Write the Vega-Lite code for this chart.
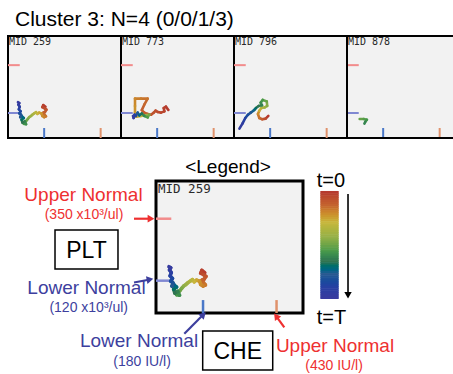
{
"$schema": "https://vega.github.io/schema/vega-lite/v6.json",
"background": "white",
"padding": {"left": 6, "top": 9, "right": 0, "bottom": 0},
"title": {"text": "Cluster 3: N=4 (0/0/1/3)", "anchor": "start", "font": "Liberation Sans", "fontSize": 21, "fontWeight": "normal", "color": "black", "offset": 5, "dx": 9},
"config": {"view": {"stroke": "black", "strokeWidth": 2, "fill": "#f2f2f2"}, "font": "Liberation Sans"},
"datasets": {
"traj": [
{"mid":"259","t":0,"che":186,"plt":150},{"mid":"259","t":0.02,"che":176,"plt":158},{"mid":"259","t":0.04,"che":172,"plt":148},{"mid":"259","t":0.06,"che":182,"plt":142},{"mid":"259","t":0.08,"che":190,"plt":136},{"mid":"259","t":0.10,"che":184,"plt":126},{"mid":"259","t":0.12,"che":176,"plt":122},{"mid":"259","t":0.14,"che":182,"plt":112},{"mid":"259","t":0.16,"che":188,"plt":104},{"mid":"259","t":0.18,"che":180,"plt":100},{"mid":"259","t":0.20,"che":172,"plt":106},{"mid":"259","t":0.22,"che":168,"plt":118},{"mid":"259","t":0.25,"che":158,"plt":122},{"mid":"259","t":0.28,"che":150,"plt":116},{"mid":"259","t":0.31,"che":144,"plt":124},{"mid":"259","t":0.34,"che":136,"plt":118},{"mid":"259","t":0.37,"che":128,"plt":112},{"mid":"259","t":0.40,"che":122,"plt":106},{"mid":"259","t":0.43,"che":114,"plt":100},{"mid":"259","t":0.46,"che":108,"plt":92},{"mid":"259","t":0.49,"che":102,"plt":84},{"mid":"259","t":0.52,"che":96,"plt":76},{"mid":"259","t":0.55,"che":90,"plt":68},{"mid":"259","t":0.58,"che":100,"plt":66},{"mid":"259","t":0.61,"che":94,"plt":80},{"mid":"259","t":0.64,"che":84,"plt":74},{"mid":"259","t":0.67,"che":80,"plt":88},{"mid":"259","t":0.70,"che":90,"plt":96},{"mid":"259","t":0.73,"che":82,"plt":104},{"mid":"259","t":0.76,"che":74,"plt":100},{"mid":"259","t":0.79,"che":78,"plt":112},{"mid":"259","t":0.82,"che":70,"plt":118},{"mid":"259","t":0.85,"che":76,"plt":128},{"mid":"259","t":0.88,"che":68,"plt":138},{"mid":"259","t":0.91,"che":72,"plt":150},{"mid":"259","t":0.94,"che":66,"plt":160},{"mid":"259","t":0.97,"che":70,"plt":168},{"mid":"259","t":1.00,"che":64,"plt":172},
{"mid":"773","t":0,"che":229.5,"plt":134.5},{"mid":"773","t":0.01,"che":219,"plt":150.5},{"mid":"773","t":0.02,"che":209,"plt":144},{"mid":"773","t":0.03,"che":212,"plt":128},{"mid":"773","t":0.04,"che":197,"plt":122},{"mid":"773","t":0.05,"che":182,"plt":125},{"mid":"773","t":0.06,"che":173,"plt":131},{"mid":"773","t":0.07,"che":165,"plt":122},{"mid":"773","t":0.08,"che":153,"plt":112},{"mid":"773","t":0.09,"che":138,"plt":115},{"mid":"773","t":0.10,"che":123,"plt":122},{"mid":"773","t":0.11,"che":112,"plt":134},{"mid":"773","t":0.13,"che":123,"plt":160},{"mid":"773","t":0.15,"che":138,"plt":189},{"mid":"773","t":0.17,"che":108,"plt":189},{"mid":"773","t":0.19,"che":82,"plt":189},{"mid":"773","t":0.21,"che":82,"plt":154},{"mid":"773","t":0.23,"che":82,"plt":122},{"mid":"773","t":0.26,"che":88,"plt":102},{"mid":"773","t":0.32,"che":108,"plt":106},{"mid":"773","t":0.40,"che":126,"plt":109},{"mid":"773","t":0.48,"che":145,"plt":112},{"mid":"773","t":0.54,"che":138,"plt":99},{"mid":"773","t":0.60,"che":123,"plt":106},{"mid":"773","t":0.66,"che":112,"plt":118},{"mid":"773","t":0.72,"che":101,"plt":109},{"mid":"773","t":0.78,"che":94,"plt":122},{"mid":"773","t":0.84,"che":86,"plt":106},{"mid":"773","t":0.90,"che":80,"plt":112},{"mid":"773","t":0.95,"che":76,"plt":96},{"mid":"773","t":1.00,"che":73,"plt":106},
{"mid":"796","t":0,"che":172,"plt":106},{"mid":"796","t":0.05,"che":160,"plt":93},{"mid":"796","t":0.10,"che":145,"plt":90},{"mid":"796","t":0.15,"che":132,"plt":96},{"mid":"796","t":0.20,"che":126,"plt":115},{"mid":"796","t":0.27,"che":132,"plt":131},{"mid":"796","t":0.34,"che":141,"plt":144},{"mid":"796","t":0.40,"che":156,"plt":147},{"mid":"796","t":0.45,"che":167,"plt":154},{"mid":"796","t":0.50,"che":165,"plt":176},{"mid":"796","t":0.55,"che":147,"plt":183},{"mid":"796","t":0.58,"che":138,"plt":170},{"mid":"796","t":0.61,"che":144,"plt":157},{"mid":"796","t":0.64,"che":129,"plt":154},{"mid":"796","t":0.67,"che":117,"plt":144},{"mid":"796","t":0.70,"che":112,"plt":138},{"mid":"796","t":0.74,"che":106,"plt":131},{"mid":"796","t":0.78,"che":94,"plt":122},{"mid":"796","t":0.83,"che":82,"plt":112},{"mid":"796","t":0.88,"che":70,"plt":96},{"mid":"796","t":0.94,"che":58,"plt":70},{"mid":"796","t":1.00,"che":44,"plt":45},
{"mid":"878","t":0.50,"che":76,"plt":91},{"mid":"878","t":0.53,"che":94,"plt":91},{"mid":"878","t":0.56,"che":108,"plt":88},{"mid":"878","t":0.60,"che":101,"plt":78},{"mid":"878","t":0.64,"che":97,"plt":69}
],
"ticks": [
{"axis":"PLT","which":"PLT upper","value":350},{"axis":"PLT","which":"PLT lower","value":120},{"axis":"CHE","which":"CHE lower","value":180},{"axis":"CHE","which":"CHE upper","value":430}
],
"mids": [
{"mid":"259","label":"MID 259"},{"mid":"773","label":"MID 773"},{"mid":"796","label":"MID 796"},{"mid":"878","label":"MID 878"}
],
"notes": [
{"text":"<Legend>","che":264.9,"plt":546,"tone":"black","level":"legend"},
{"text":"Upper Normal","che":-226.6,"plt":442.9,"tone":"red","level":"head"},
{"text":"(350 x10³/ul)","che":-224.9,"plt":367.5,"tone":"red","level":"sub"},
{"text":"PLT","che":-216.4,"plt":235.7,"tone":"black","level":"box"},
{"text":"Lower Normal","che":-216.4,"plt":96.5,"tone":"blue","level":"head"},
{"text":"(120 x10³/ul)","che":-208.9,"plt":22.3,"tone":"blue","level":"sub"},
{"text":"Lower Normal","che":-37.8,"plt":-100.2,"tone":"blue","level":"head"},
{"text":"(180 IU/l)","che":-27.6,"plt":-178.2,"tone":"blue","level":"sub"},
{"text":"CHE","che":297.9,"plt":-139.2,"tone":"black","level":"box"},
{"text":"Upper Normal","che":628.9,"plt":-117.7,"tone":"red","level":"head"},
{"text":"(430 IU/l)","che":625.5,"plt":-191.9,"tone":"red","level":"sub"},
{"text":"t=0","che":615.2,"plt":493,"tone":"black","level":"t"},
{"text":"t=T","che":617,"plt":-16,"tone":"black","level":"t"}
],
"boxes": [
{"label":"PLT","che":-323.5,"che2":-109.3,"plt":308.1,"plt2":163.3},
{"label":"CHE","che":178.8,"che2":417,"plt":-66.8,"plt2":-211.6}
],
"arrows": [
{"id":"pu","tone":"red","che":-54.8,"plt":350,"che2":3,"plt2":350},
{"id":"pl","tone":"blue","che":-54.8,"plt":113.2,"che2":-0.4,"plt2":124.4},
{"id":"cl","tone":"blue","che":116.3,"plt":-76.8,"che2":181.2,"plt2":-5.9},
{"id":"cu","tone":"red","che":456.4,"plt":-53.1,"che2":428.5,"plt2":-11.5},
{"id":"time","tone":"black","che":673.1,"plt":441.7,"che2":673.1,"plt2":66}
],
"colorbar": [
{"t":0,"t2":0.025},{"t":0.02,"t2":0.045},{"t":0.04,"t2":0.065},{"t":0.06,"t2":0.085},{"t":0.08,"t2":0.105},{"t":0.1,"t2":0.125},{"t":0.12,"t2":0.145},{"t":0.14,"t2":0.165},{"t":0.16,"t2":0.185},{"t":0.18,"t2":0.205},{"t":0.2,"t2":0.225},{"t":0.22,"t2":0.245},{"t":0.24,"t2":0.265},{"t":0.26,"t2":0.285},{"t":0.28,"t2":0.305},{"t":0.3,"t2":0.325},{"t":0.32,"t2":0.345},{"t":0.34,"t2":0.365},{"t":0.36,"t2":0.385},{"t":0.38,"t2":0.405},{"t":0.4,"t2":0.425},{"t":0.42,"t2":0.445},{"t":0.44,"t2":0.465},{"t":0.46,"t2":0.485},{"t":0.48,"t2":0.505},{"t":0.5,"t2":0.525},{"t":0.52,"t2":0.545},{"t":0.54,"t2":0.565},{"t":0.56,"t2":0.585},{"t":0.58,"t2":0.605},{"t":0.6,"t2":0.625},{"t":0.62,"t2":0.645},{"t":0.64,"t2":0.665},{"t":0.66,"t2":0.685},{"t":0.68,"t2":0.705},{"t":0.7,"t2":0.725},{"t":0.72,"t2":0.745},{"t":0.74,"t2":0.765},{"t":0.76,"t2":0.785},{"t":0.78,"t2":0.805},{"t":0.8,"t2":0.825},{"t":0.82,"t2":0.845},{"t":0.84,"t2":0.865},{"t":0.86,"t2":0.885},{"t":0.88,"t2":0.905},{"t":0.9,"t2":0.925},{"t":0.92,"t2":0.945},{"t":0.94,"t2":0.965},{"t":0.96,"t2":0.985},{"t":0.98,"t2":1.0}
]
},
"spacing": 7,
"resolve": {"scale": {"x": "independent", "y": "independent"}},
"vconcat": [
{
"hconcat": [
{
"width": 113, "height": 102,
"layer": [
{"data":{"name":"ticks"},"transform":[{"filter":"datum.axis == 'PLT'"}],"mark":{"type":"rule","strokeWidth":2},
"encoding":{"y":{"field":"value","type":"quantitative","scale":{"domain":[0,490],"nice":false,"zero":false},"axis":null},"x":{"datum":20,"type":"quantitative","scale":{"domain":[20,520],"nice":false,"zero":false},"axis":null},"x2":{"datum":72},"stroke":{"field":"which","type":"nominal","scale":{"domain":["PLT upper","PLT lower","CHE lower","CHE upper","red","blue","black"],"range":["#f28c8c","#8088d2","#4a78c8","#e0926c","#ee3030","#3d3f9e","#000000"]},"legend":null}}},
{"data":{"name":"ticks"},"transform":[{"filter":"datum.axis == 'CHE'"}],"mark":{"type":"rule","strokeWidth":2},
"encoding":{"x":{"field":"value","type":"quantitative","scale":{"domain":[20,520],"nice":false,"zero":false},"axis":null},"y":{"datum":0,"type":"quantitative","scale":{"domain":[0,490],"nice":false,"zero":false},"axis":null},"y2":{"datum":48},"stroke":{"field":"which","type":"nominal","scale":{"domain":["PLT upper","PLT lower","CHE lower","CHE upper","red","blue","black"],"range":["#f28c8c","#8088d2","#4a78c8","#e0926c","#ee3030","#3d3f9e","#000000"]},"legend":null}}},
{"data":{"name":"traj"},"transform":[{"filter":"datum.mid == '259'"},{"window":[{"op":"lead","field":"che","as":"che2"},{"op":"lead","field":"plt","as":"plt2"}],"sort":[{"field":"t"}]},{"filter":"isValid(datum.che2)"}],
"mark":{"type":"rule","strokeWidth":2.6,"strokeCap":"round"},
"encoding":{"x":{"field":"che","type":"quantitative","scale":{"domain":[20,520],"nice":false,"zero":false},"axis":null},"y":{"field":"plt","type":"quantitative","scale":{"domain":[0,490],"nice":false,"zero":false},"axis":null},"x2":{"field":"che2"},"y2":{"field":"plt2"},"color":{"field":"t","type":"quantitative","scale":{"domain":[0,0.12,0.28,0.42,0.55,0.65,0.75,0.87,1],"range":["#b53a2e","#c4632f","#c8b63c","#94b048","#47994a","#2f7050","#2b5b8e","#2440a2","#3b3a9e"]},"legend":null}}},
{"data":{"name":"mids"},"transform":[{"filter":"datum.mid == '259'"}],"mark":{"type":"text","font":"DejaVu Sans Mono","fontSize":10,"align":"left","baseline":"top","dx":1,"dy":1,"fill":"#2a2a2a"},
"encoding":{"x":{"datum":20,"type":"quantitative","scale":{"domain":[20,520],"nice":false,"zero":false},"axis":null},"y":{"datum":490,"type":"quantitative","scale":{"domain":[0,490],"nice":false,"zero":false},"axis":null},"text":{"field":"label"}}}
]
},
{
"width": 113, "height": 102,
"layer": [
{"data":{"name":"ticks"},"transform":[{"filter":"datum.axis == 'PLT'"}],"mark":{"type":"rule","strokeWidth":2},
"encoding":{"y":{"field":"value","type":"quantitative","scale":{"domain":[0,490],"nice":false,"zero":false},"axis":null},"x":{"datum":20,"type":"quantitative","scale":{"domain":[20,520],"nice":false,"zero":false},"axis":null},"x2":{"datum":72},"stroke":{"field":"which","type":"nominal","scale":{"domain":["PLT upper","PLT lower","CHE lower","CHE upper","red","blue","black"],"range":["#f28c8c","#8088d2","#4a78c8","#e0926c","#ee3030","#3d3f9e","#000000"]},"legend":null}}},
{"data":{"name":"ticks"},"transform":[{"filter":"datum.axis == 'CHE'"}],"mark":{"type":"rule","strokeWidth":2},
"encoding":{"x":{"field":"value","type":"quantitative","scale":{"domain":[20,520],"nice":false,"zero":false},"axis":null},"y":{"datum":0,"type":"quantitative","scale":{"domain":[0,490],"nice":false,"zero":false},"axis":null},"y2":{"datum":48},"stroke":{"field":"which","type":"nominal","scale":{"domain":["PLT upper","PLT lower","CHE lower","CHE upper","red","blue","black"],"range":["#f28c8c","#8088d2","#4a78c8","#e0926c","#ee3030","#3d3f9e","#000000"]},"legend":null}}},
{"data":{"name":"traj"},"transform":[{"filter":"datum.mid == '773'"},{"window":[{"op":"lead","field":"che","as":"che2"},{"op":"lead","field":"plt","as":"plt2"}],"sort":[{"field":"t"}]},{"filter":"isValid(datum.che2)"}],
"mark":{"type":"rule","strokeWidth":2.6,"strokeCap":"round"},
"encoding":{"x":{"field":"che","type":"quantitative","scale":{"domain":[20,520],"nice":false,"zero":false},"axis":null},"y":{"field":"plt","type":"quantitative","scale":{"domain":[0,490],"nice":false,"zero":false},"axis":null},"x2":{"field":"che2"},"y2":{"field":"plt2"},"color":{"field":"t","type":"quantitative","scale":{"domain":[0,0.12,0.28,0.42,0.55,0.65,0.75,0.87,1],"range":["#b53a2e","#c4632f","#c8b63c","#94b048","#47994a","#2f7050","#2b5b8e","#2440a2","#3b3a9e"]},"legend":null}}},
{"data":{"name":"mids"},"transform":[{"filter":"datum.mid == '773'"}],"mark":{"type":"text","font":"DejaVu Sans Mono","fontSize":10,"align":"left","baseline":"top","dx":1,"dy":1,"fill":"#2a2a2a"},
"encoding":{"x":{"datum":20,"type":"quantitative","scale":{"domain":[20,520],"nice":false,"zero":false},"axis":null},"y":{"datum":490,"type":"quantitative","scale":{"domain":[0,490],"nice":false,"zero":false},"axis":null},"text":{"field":"label"}}}
]
},
{
"width": 113, "height": 102,
"layer": [
{"data":{"name":"ticks"},"transform":[{"filter":"datum.axis == 'PLT'"}],"mark":{"type":"rule","strokeWidth":2},
"encoding":{"y":{"field":"value","type":"quantitative","scale":{"domain":[0,490],"nice":false,"zero":false},"axis":null},"x":{"datum":20,"type":"quantitative","scale":{"domain":[20,520],"nice":false,"zero":false},"axis":null},"x2":{"datum":72},"stroke":{"field":"which","type":"nominal","scale":{"domain":["PLT upper","PLT lower","CHE lower","CHE upper","red","blue","black"],"range":["#f28c8c","#8088d2","#4a78c8","#e0926c","#ee3030","#3d3f9e","#000000"]},"legend":null}}},
{"data":{"name":"ticks"},"transform":[{"filter":"datum.axis == 'CHE'"}],"mark":{"type":"rule","strokeWidth":2},
"encoding":{"x":{"field":"value","type":"quantitative","scale":{"domain":[20,520],"nice":false,"zero":false},"axis":null},"y":{"datum":0,"type":"quantitative","scale":{"domain":[0,490],"nice":false,"zero":false},"axis":null},"y2":{"datum":48},"stroke":{"field":"which","type":"nominal","scale":{"domain":["PLT upper","PLT lower","CHE lower","CHE upper","red","blue","black"],"range":["#f28c8c","#8088d2","#4a78c8","#e0926c","#ee3030","#3d3f9e","#000000"]},"legend":null}}},
{"data":{"name":"traj"},"transform":[{"filter":"datum.mid == '796'"},{"window":[{"op":"lead","field":"che","as":"che2"},{"op":"lead","field":"plt","as":"plt2"}],"sort":[{"field":"t"}]},{"filter":"isValid(datum.che2)"}],
"mark":{"type":"rule","strokeWidth":2.6,"strokeCap":"round"},
"encoding":{"x":{"field":"che","type":"quantitative","scale":{"domain":[20,520],"nice":false,"zero":false},"axis":null},"y":{"field":"plt","type":"quantitative","scale":{"domain":[0,490],"nice":false,"zero":false},"axis":null},"x2":{"field":"che2"},"y2":{"field":"plt2"},"color":{"field":"t","type":"quantitative","scale":{"domain":[0,0.12,0.28,0.42,0.55,0.65,0.75,0.87,1],"range":["#b53a2e","#c4632f","#c8b63c","#94b048","#47994a","#2f7050","#2b5b8e","#2440a2","#3b3a9e"]},"legend":null}}},
{"data":{"name":"mids"},"transform":[{"filter":"datum.mid == '796'"}],"mark":{"type":"text","font":"DejaVu Sans Mono","fontSize":10,"align":"left","baseline":"top","dx":1,"dy":1,"fill":"#2a2a2a"},
"encoding":{"x":{"datum":20,"type":"quantitative","scale":{"domain":[20,520],"nice":false,"zero":false},"axis":null},"y":{"datum":490,"type":"quantitative","scale":{"domain":[0,490],"nice":false,"zero":false},"axis":null},"text":{"field":"label"}}}
]
},
{
"width": 106, "height": 102,
"view": {"stroke": null},
"layer": [
{"data":{"name":"ticks"},"transform":[{"filter":"datum.axis == 'PLT'"}],"mark":{"type":"rule","strokeWidth":2},
"encoding":{"y":{"field":"value","type":"quantitative","scale":{"domain":[0,490],"nice":false,"zero":false},"axis":null},"x":{"datum":20,"type":"quantitative","scale":{"domain":[20,489],"nice":false,"zero":false},"axis":null},"x2":{"datum":72},"stroke":{"field":"which","type":"nominal","scale":{"domain":["PLT upper","PLT lower","CHE lower","CHE upper","red","blue","black"],"range":["#f28c8c","#8088d2","#4a78c8","#e0926c","#ee3030","#3d3f9e","#000000"]},"legend":null}}},
{"data":{"name":"ticks"},"transform":[{"filter":"datum.axis == 'CHE'"}],"mark":{"type":"rule","strokeWidth":2},
"encoding":{"x":{"field":"value","type":"quantitative","scale":{"domain":[20,489],"nice":false,"zero":false},"axis":null},"y":{"datum":0,"type":"quantitative","scale":{"domain":[0,490],"nice":false,"zero":false},"axis":null},"y2":{"datum":48},"stroke":{"field":"which","type":"nominal","scale":{"domain":["PLT upper","PLT lower","CHE lower","CHE upper","red","blue","black"],"range":["#f28c8c","#8088d2","#4a78c8","#e0926c","#ee3030","#3d3f9e","#000000"]},"legend":null}}},
{"data":{"name":"traj"},"transform":[{"filter":"datum.mid == '878'"},{"window":[{"op":"lead","field":"che","as":"che2"},{"op":"lead","field":"plt","as":"plt2"}],"sort":[{"field":"t"}]},{"filter":"isValid(datum.che2)"}],
"mark":{"type":"rule","strokeWidth":2.6,"strokeCap":"round"},
"encoding":{"x":{"field":"che","type":"quantitative","scale":{"domain":[20,489],"nice":false,"zero":false},"axis":null},"y":{"field":"plt","type":"quantitative","scale":{"domain":[0,490],"nice":false,"zero":false},"axis":null},"x2":{"field":"che2"},"y2":{"field":"plt2"},"color":{"field":"t","type":"quantitative","scale":{"domain":[0,0.12,0.28,0.42,0.55,0.65,0.75,0.87,1],"range":["#b53a2e","#c4632f","#c8b63c","#94b048","#47994a","#2f7050","#2b5b8e","#2440a2","#3b3a9e"]},"legend":null}}},
{"data":{"name":"mids"},"transform":[{"filter":"datum.mid == '878'"}],"mark":{"type":"text","font":"DejaVu Sans Mono","fontSize":10,"align":"left","baseline":"top","dx":1,"dy":1,"fill":"#2a2a2a"},
"encoding":{"x":{"datum":20,"type":"quantitative","scale":{"domain":[20,489],"nice":false,"zero":false},"axis":null},"y":{"datum":490,"type":"quantitative","scale":{"domain":[0,490],"nice":false,"zero":false},"axis":null},"text":{"field":"label"}}},
{"data":{"name":"mids"},"transform":[{"filter":"datum.mid == '878'"}],"mark":{"type":"rule","color":"black","strokeWidth":2},
"encoding":{"x":{"datum":20,"type":"quantitative","scale":{"domain":[20,489],"nice":false,"zero":false},"axis":null}}},
{"data":{"name":"mids"},"transform":[{"filter":"datum.mid == '878'"}],"mark":{"type":"rule","color":"black","strokeWidth":2},
"encoding":{"y":{"datum":490,"type":"quantitative","scale":{"domain":[0,490],"nice":false,"zero":false},"axis":null}}},
{"data":{"name":"mids"},"transform":[{"filter":"datum.mid == '878'"}],"mark":{"type":"rule","color":"black","strokeWidth":2},
"encoding":{"y":{"datum":0,"type":"quantitative","scale":{"domain":[0,490],"nice":false,"zero":false},"axis":null}}}
]
}
],
"spacing": 0,
"bounds": "flush",
"resolve": {"scale": {"x": "independent", "y": "independent"}}
},
{
"width": 445, "height": 225,
"view": {"stroke": null, "fill": null},
"resolve": {"scale": {"y": "independent"}},
"layer": [
{
"layer": [
{"data":{"name":"mids"},"transform":[{"filter":"datum.mid == '259'"}],"mark":{"type":"rect","fill":"#f2f2f2","stroke":"black","strokeWidth":3},
"encoding":{"x":{"datum":20,"type":"quantitative","scale":{"domain":[-483.4,1030.2],"nice":false,"zero":false},"axis":null},"x2":{"datum":520},"y":{"datum":0,"type":"quantitative","scale":{"domain":[-219,616.2],"nice":false,"zero":false},"axis":null},"y2":{"datum":490}}},
{"data":{"name":"ticks"},"transform":[{"filter":"datum.axis == 'PLT'"}],"mark":{"type":"rule","strokeWidth":2.5},
"encoding":{"y":{"field":"value","type":"quantitative","scale":{"domain":[-219,616.2],"nice":false,"zero":false},"axis":null},"x":{"datum":20,"type":"quantitative","scale":{"domain":[-483.4,1030.2],"nice":false,"zero":false},"axis":null},"x2":{"datum":72},"stroke":{"field":"which","type":"nominal","scale":{"domain":["PLT upper","PLT lower","CHE lower","CHE upper","red","blue","black"],"range":["#f28c8c","#8088d2","#4a78c8","#e0926c","#ee3030","#3d3f9e","#000000"]},"legend":null}}},
{"data":{"name":"ticks"},"transform":[{"filter":"datum.axis == 'CHE'"}],"mark":{"type":"rule","strokeWidth":2.5},
"encoding":{"x":{"field":"value","type":"quantitative","scale":{"domain":[-483.4,1030.2],"nice":false,"zero":false},"axis":null},"y":{"datum":0,"type":"quantitative","scale":{"domain":[-219,616.2],"nice":false,"zero":false},"axis":null},"y2":{"datum":48},"stroke":{"field":"which","type":"nominal","scale":{"domain":["PLT upper","PLT lower","CHE lower","CHE upper","red","blue","black"],"range":["#f28c8c","#8088d2","#4a78c8","#e0926c","#ee3030","#3d3f9e","#000000"]},"legend":null}}},
{"data":{"name":"traj"},"transform":[{"filter":"datum.mid == '259'"},{"window":[{"op":"lead","field":"che","as":"che2"},{"op":"lead","field":"plt","as":"plt2"}],"sort":[{"field":"t"}]},{"filter":"isValid(datum.che2)"}],
"mark":{"type":"rule","strokeWidth":3.6,"strokeCap":"round"},
"encoding":{"x":{"field":"che","type":"quantitative","scale":{"domain":[-483.4,1030.2],"nice":false,"zero":false},"axis":null},"y":{"field":"plt","type":"quantitative","scale":{"domain":[-219,616.2],"nice":false,"zero":false},"axis":null},"x2":{"field":"che2"},"y2":{"field":"plt2"},"color":{"field":"t","type":"quantitative","scale":{"domain":[0,0.12,0.28,0.42,0.55,0.65,0.75,0.87,1],"range":["#b53a2e","#c4632f","#c8b63c","#94b048","#47994a","#2f7050","#2b5b8e","#2440a2","#3b3a9e"]},"legend":null}}},
{"data":{"name":"mids"},"transform":[{"filter":"datum.mid == '259'"}],"mark":{"type":"text","font":"DejaVu Sans Mono","fontSize":12.5,"align":"left","baseline":"top","dx":2,"dy":2,"fill":"#2a2a2a"},
"encoding":{"x":{"datum":20,"type":"quantitative","scale":{"domain":[-483.4,1030.2],"nice":false,"zero":false},"axis":null},"y":{"datum":490,"type":"quantitative","scale":{"domain":[-219,616.2],"nice":false,"zero":false},"axis":null},"text":{"field":"label"}}},
{"data":{"name":"boxes"},"mark":{"type":"rect","fill":"white","stroke":"black","strokeWidth":1.5},
"encoding":{"x":{"field":"che","type":"quantitative","scale":{"domain":[-483.4,1030.2],"nice":false,"zero":false},"axis":null},"x2":{"field":"che2"},"y":{"field":"plt","type":"quantitative","scale":{"domain":[-219,616.2],"nice":false,"zero":false},"axis":null},"y2":{"field":"plt2"}}},
{"data":{"name":"arrows"},"transform":[{"filter":"datum.tone != 'black'"}],"mark":{"type":"rule","strokeWidth":2.2},
"encoding":{"x":{"field":"che","type":"quantitative","scale":{"domain":[-483.4,1030.2],"nice":false,"zero":false},"axis":null},"y":{"field":"plt","type":"quantitative","scale":{"domain":[-219,616.2],"nice":false,"zero":false},"axis":null},"x2":{"field":"che2"},"y2":{"field":"plt2"},"stroke":{"field":"tone","type":"nominal","scale":{"domain":["PLT upper","PLT lower","CHE lower","CHE upper","red","blue","black"],"range":["#f28c8c","#8088d2","#4a78c8","#e0926c","#ee3030","#3d3f9e","#000000"]},"legend":null}}},
{"data":{"name":"arrows"},"transform":[{"filter":"datum.tone == 'black'"}],"mark":{"type":"rule","strokeWidth":1.6},
"encoding":{"x":{"field":"che","type":"quantitative","scale":{"domain":[-483.4,1030.2],"nice":false,"zero":false},"axis":null},"y":{"field":"plt","type":"quantitative","scale":{"domain":[-219,616.2],"nice":false,"zero":false},"axis":null},"x2":{"field":"che2"},"y2":{"field":"plt2"},"stroke":{"field":"tone","type":"nominal","scale":{"domain":["PLT upper","PLT lower","CHE lower","CHE upper","red","blue","black"],"range":["#f28c8c","#8088d2","#4a78c8","#e0926c","#ee3030","#3d3f9e","#000000"]},"legend":null}}},
{"data":{"name":"arrows"},"transform":[{"filter":"datum.id == 'pu'"}],"mark":{"type":"point","shape":"triangle-up","filled":true,"size":60,"angle":90,"opacity":1,"strokeWidth":0},
"encoding":{"x":{"field":"che2","type":"quantitative","scale":{"domain":[-483.4,1030.2],"nice":false,"zero":false},"axis":null},"y":{"field":"plt2","type":"quantitative","scale":{"domain":[-219,616.2],"nice":false,"zero":false},"axis":null},"fill":{"field":"tone","type":"nominal","scale":{"domain":["red","blue","black"],"range":["#ee3030","#3d3f9e","#000000"]},"legend":null}}},
{"data":{"name":"arrows"},"transform":[{"filter":"datum.id == 'pl'"}],"mark":{"type":"point","shape":"triangle-up","filled":true,"size":60,"angle":79,"opacity":1,"strokeWidth":0},
"encoding":{"x":{"field":"che2","type":"quantitative","scale":{"domain":[-483.4,1030.2],"nice":false,"zero":false},"axis":null},"y":{"field":"plt2","type":"quantitative","scale":{"domain":[-219,616.2],"nice":false,"zero":false},"axis":null},"fill":{"field":"tone","type":"nominal","scale":{"domain":["red","blue","black"],"range":["#ee3030","#3d3f9e","#000000"]},"legend":null}}},
{"data":{"name":"arrows"},"transform":[{"filter":"datum.id == 'cl'"}],"mark":{"type":"point","shape":"triangle-up","filled":true,"size":60,"angle":45,"opacity":1,"strokeWidth":0},
"encoding":{"x":{"field":"che2","type":"quantitative","scale":{"domain":[-483.4,1030.2],"nice":false,"zero":false},"axis":null},"y":{"field":"plt2","type":"quantitative","scale":{"domain":[-219,616.2],"nice":false,"zero":false},"axis":null},"fill":{"field":"tone","type":"nominal","scale":{"domain":["red","blue","black"],"range":["#ee3030","#3d3f9e","#000000"]},"legend":null}}},
{"data":{"name":"arrows"},"transform":[{"filter":"datum.id == 'cu'"}],"mark":{"type":"point","shape":"triangle-up","filled":true,"size":60,"angle":324,"opacity":1,"strokeWidth":0},
"encoding":{"x":{"field":"che2","type":"quantitative","scale":{"domain":[-483.4,1030.2],"nice":false,"zero":false},"axis":null},"y":{"field":"plt2","type":"quantitative","scale":{"domain":[-219,616.2],"nice":false,"zero":false},"axis":null},"fill":{"field":"tone","type":"nominal","scale":{"domain":["red","blue","black"],"range":["#ee3030","#3d3f9e","#000000"]},"legend":null}}},
{"data":{"name":"arrows"},"transform":[{"filter":"datum.id == 'time'"}],"mark":{"type":"point","shape":"triangle-up","filled":true,"size":55,"angle":180,"opacity":1,"strokeWidth":0},
"encoding":{"x":{"field":"che2","type":"quantitative","scale":{"domain":[-483.4,1030.2],"nice":false,"zero":false},"axis":null},"y":{"field":"plt2","type":"quantitative","scale":{"domain":[-219,616.2],"nice":false,"zero":false},"axis":null},"fill":{"field":"tone","type":"nominal","scale":{"domain":["red","blue","black"],"range":["#ee3030","#3d3f9e","#000000"]},"legend":null}}},
{"data":{"name":"notes"},"transform":[{"filter":"datum.level == 'head'"}],"mark":{"type":"text","font":"Liberation Sans","fontSize":19,"align":"center","baseline":"middle","dy":1},
"encoding":{"x":{"field":"che","type":"quantitative","scale":{"domain":[-483.4,1030.2],"nice":false,"zero":false},"axis":null},"y":{"field":"plt","type":"quantitative","scale":{"domain":[-219,616.2],"nice":false,"zero":false},"axis":null},"text":{"field":"text"},"fill":{"field":"tone","type":"nominal","scale":{"domain":["red","blue","black"],"range":["#ee3030","#3d3f9e","#000000"]},"legend":null}}},
{"data":{"name":"notes"},"transform":[{"filter":"datum.level == 'sub'"}],"mark":{"type":"text","font":"Liberation Sans","fontSize":14,"align":"center","baseline":"middle","dy":1},
"encoding":{"x":{"field":"che","type":"quantitative","scale":{"domain":[-483.4,1030.2],"nice":false,"zero":false},"axis":null},"y":{"field":"plt","type":"quantitative","scale":{"domain":[-219,616.2],"nice":false,"zero":false},"axis":null},"text":{"field":"text"},"fill":{"field":"tone","type":"nominal","scale":{"domain":["red","blue","black"],"range":["#ee3030","#3d3f9e","#000000"]},"legend":null}}},
{"data":{"name":"notes"},"transform":[{"filter":"datum.level == 'box'"}],"mark":{"type":"text","font":"Liberation Sans","fontSize":23,"align":"center","baseline":"middle","dy":1},
"encoding":{"x":{"field":"che","type":"quantitative","scale":{"domain":[-483.4,1030.2],"nice":false,"zero":false},"axis":null},"y":{"field":"plt","type":"quantitative","scale":{"domain":[-219,616.2],"nice":false,"zero":false},"axis":null},"text":{"field":"text"},"fill":{"field":"tone","type":"nominal","scale":{"domain":["red","blue","black"],"range":["#ee3030","#3d3f9e","#000000"]},"legend":null}}},
{"data":{"name":"notes"},"transform":[{"filter":"datum.level == 't'"}],"mark":{"type":"text","font":"Liberation Sans","fontSize":20,"align":"center","baseline":"middle","dy":1},
"encoding":{"x":{"field":"che","type":"quantitative","scale":{"domain":[-483.4,1030.2],"nice":false,"zero":false},"axis":null},"y":{"field":"plt","type":"quantitative","scale":{"domain":[-219,616.2],"nice":false,"zero":false},"axis":null},"text":{"field":"text"},"fill":{"field":"tone","type":"nominal","scale":{"domain":["red","blue","black"],"range":["#ee3030","#3d3f9e","#000000"]},"legend":null}}},
{"data":{"name":"notes"},"transform":[{"filter":"datum.level == 'legend'"}],"mark":{"type":"text","font":"Liberation Sans","fontSize":19,"align":"center","baseline":"middle","dy":1},
"encoding":{"x":{"field":"che","type":"quantitative","scale":{"domain":[-483.4,1030.2],"nice":false,"zero":false},"axis":null},"y":{"field":"plt","type":"quantitative","scale":{"domain":[-219,616.2],"nice":false,"zero":false},"axis":null},"text":{"field":"text"},"fill":{"field":"tone","type":"nominal","scale":{"domain":["red","blue","black"],"range":["#ee3030","#3d3f9e","#000000"]},"legend":null}}}
]
},
{"data":{"name":"colorbar"},"mark":{"type":"rect","strokeWidth":0},
"encoding":{"x":{"datum":578.9,"type":"quantitative","scale":{"domain":[-483.4,1030.2],"nice":false,"zero":false},"axis":null},"x2":{"datum":641.5},"y":{"field":"t","type":"quantitative","scale":{"domain":[-0.407,1.676],"reverse":true,"nice":false,"zero":false},"axis":null},"y2":{"field":"t2"},"color":{"field":"t","type":"quantitative","scale":{"domain":[0,0.12,0.28,0.42,0.55,0.65,0.75,0.87,1],"range":["#b53a2e","#c4632f","#c8b63c","#94b048","#47994a","#2f7050","#2b5b8e","#2440a2","#3b3a9e"]},"legend":null}}}
]
}
]
}
